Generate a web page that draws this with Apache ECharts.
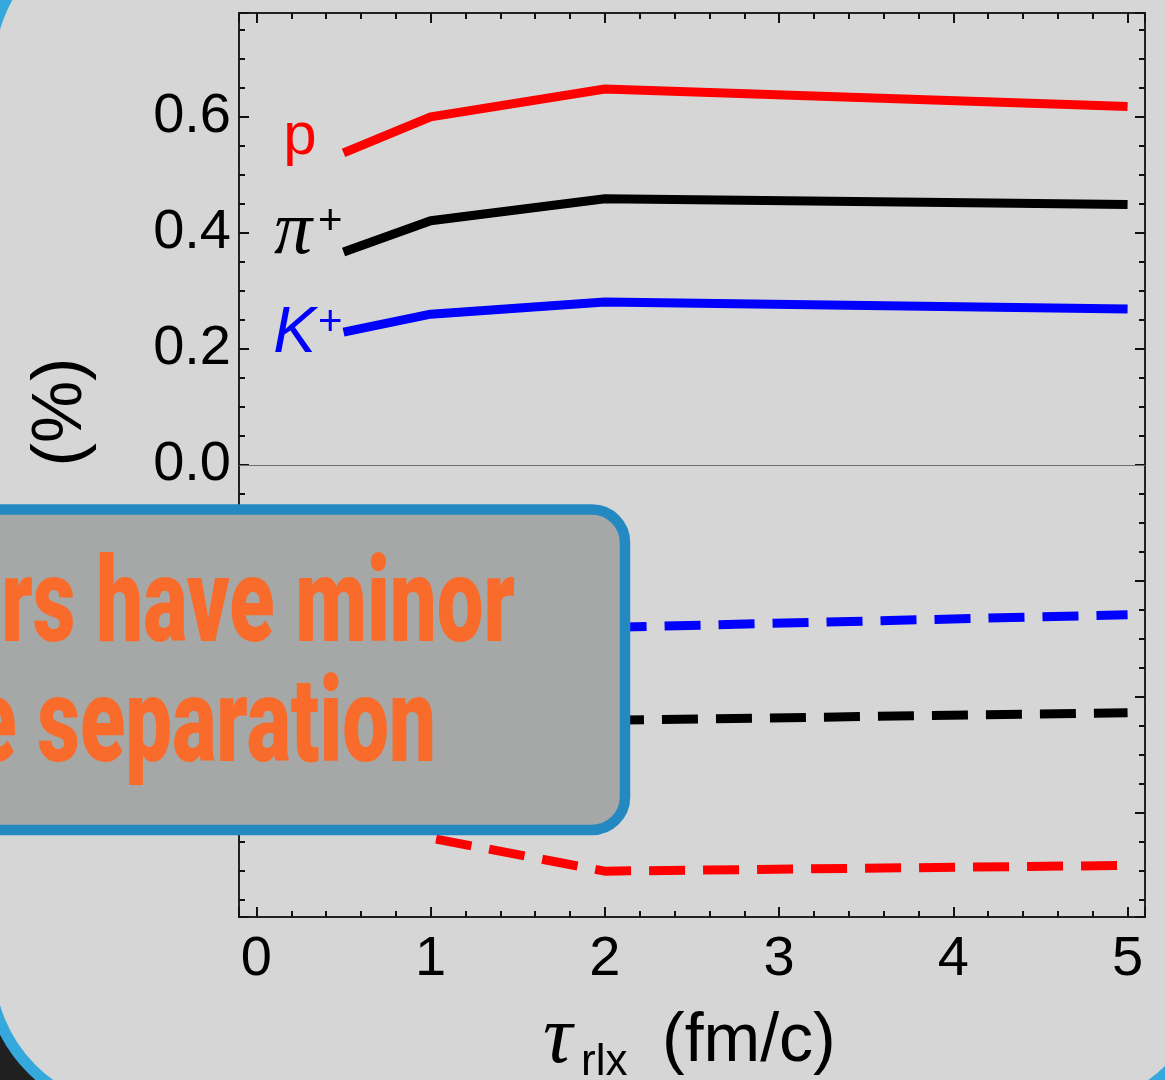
<!DOCTYPE html>
<html>
<head>
<meta charset="utf-8">
<script src="https://cdn.jsdelivr.net/npm/echarts@6/dist/echarts.min.js"></script>
<style>
  html, body { margin: 0; padding: 0; background: #202020; }
  #main { width: 1165px; height: 1080px; }
</style>
</head>
<body>
<div id="main"></div>
<script>
// tau_rlx values (fm/c)
const tau = [0.5, 1, 2, 5];
// solid curves (positive charges)
const pPlus = [0.538, 0.600, 0.648, 0.618];
const piPlus = [0.367, 0.421, 0.459, 0.449];
const kPlus = [0.229, 0.260, 0.281, 0.269];
// dashed curves (negative charges)
const pMinus = [-0.55, -0.643, -0.700, -0.690];
const piMinus = [-0.36, -0.41, -0.440, -0.427];
const kMinus = [-0.22, -0.255, -0.280, -0.258];

const xRange = [-0.1, 5.1];
const yRange = [-0.779, 0.779];

const chart = echarts.init(document.getElementById('main'));

function pts(ys, label) {
  return tau.map(function (t, i) {
    if (i === 0 && label) return { value: [t, ys[i]], label: label };
    return [t, ys[i]];
  });
}

function line(name, ys, color, dashed, label) {
  return {
    name: name,
    type: 'line',
    data: pts(ys, label),
    symbol: 'circle',
    symbolSize: 0,
    showSymbol: true,
    lineStyle: { color: color, width: 9, type: dashed ? [36, 18] : 'solid', cap: 'butt' },
    itemStyle: { color: color },
    label: { show: false },
    emphasis: { disabled: true },
    z: 3
  };
}

const tickStyle = { color: '#111', width: 2 };
function xAx(pos, labels) {
  return {
    type: 'value', position: pos, min: xRange[0], max: xRange[1],
    splitNumber: 5, minInterval: 1, maxInterval: 1,
    axisLine: { show: true, onZero: false, lineStyle: { color: '#222', width: 2 } },
    axisTick: { show: true, inside: true, length: 10, lineStyle: tickStyle },
    minorTick: { show: true, splitNumber: 5, length: 6, lineStyle: tickStyle },
    splitLine: { show: false },
    axisLabel: {
      show: labels, margin: 15, fontSize: 56, color: '#000', fontFamily: 'Liberation Sans',
      formatter: function (v) { return Math.abs(v - Math.round(v)) < 1e-6 ? String(Math.round(v)) : ''; }
    }
  };
}
function yAx(pos, labels) {
  return {
    type: 'value', position: pos, min: yRange[0], max: yRange[1],
    splitNumber: 8, minInterval: 0.2, maxInterval: 0.2,
    axisLine: { show: true, onZero: false, lineStyle: { color: '#222', width: 2 } },
    axisTick: { show: true, inside: true, length: 10, lineStyle: tickStyle },
    minorTick: { show: true, splitNumber: 4, length: 6, lineStyle: tickStyle },
    splitLine: { show: false },
    axisLabel: {
      show: labels, margin: 8, fontSize: 56, color: '#000', fontFamily: 'Liberation Sans',
      formatter: function (v) {
        const k = v / 0.2;
        return Math.abs(k - Math.round(k)) < 1e-6 ? (Math.round(k) * 0.2).toFixed(1) : '';
      }
    }
  };
}

const pLabel = {
  show: true, position: 'left', distance: 27, offset: [0, -15],
  formatter: 'p', color: '#ff0000', fontSize: 60, fontFamily: 'Liberation Sans'
};
const piLabel = {
  show: true, position: 'left', distance: 1, offset: [0, -16],
  formatter: '{a|π}{b|+}',
  rich: {
    a: { fontFamily: 'Liberation Serif', fontStyle: 'italic', fontSize: 76, color: '#000', lineHeight: 70, verticalAlign: 'bottom', padding: [0, 6, 0, 0] },
    b: { fontFamily: 'Liberation Sans', fontSize: 42, color: '#000', lineHeight: 36, verticalAlign: 'top' }
  }
};
const kLabel = {
  show: true, position: 'left', distance: 1, offset: [0, 2],
  formatter: '{a|K}{b|+}',
  rich: {
    a: { fontFamily: 'Liberation Sans', fontStyle: 'italic', fontSize: 64, color: '#0000ff', lineHeight: 64, verticalAlign: 'bottom', padding: [0, 2, 0, 0] },
    b: { fontFamily: 'Liberation Sans', fontSize: 42, color: '#0000ff', lineHeight: 36, verticalAlign: 'top' }
  }
};

const option = {
  animation: false,
  backgroundColor: '#202020',
  grid: { left: 239, top: 13, width: 906, height: 904 },
  xAxis: [xAx('bottom', true), xAx('top', false)],
  yAxis: [yAx('left', true), yAx('right', false)],
  series: [
    Object.assign(line('p', pPlus, '#ff0000', false, pLabel), {
      markLine: {
        silent: true, symbol: 'none', label: { show: false },
        lineStyle: { color: '#6e6e6e', width: 1, type: 'solid' },
        data: [{ yAxis: 0 }]
      }
    }),
    line('pi+', piPlus, '#000000', false, piLabel),
    line('K+', kPlus, '#0000ff', false, kLabel),
    line('pbar', pMinus, '#ff0000', true),
    line('pi-', piMinus, '#000000', true),
    line('K-', kMinus, '#0000ff', true)
  ],
  graphic: [
    {
      type: 'rect', z: -100, silent: true,
      shape: { x: -11, y: -77, width: 1223.5, height: 1188.5, r: 145.5 },
      style: { fill: '#d6d6d6', stroke: '#35a8dc', lineWidth: 11 }
    },
    {
      type: 'text', z: 50, silent: true, x: 62, y: 412, rotation: Math.PI / 2,
      style: { text: '(%)', font: '70px "Liberation Sans"', fill: '#000', align: 'center', verticalAlign: 'middle' }
    },
    {
      type: 'text', z: 50, silent: true, x: 543, y: 1040,
      style: { text: 'τ', font: 'italic 82px "Liberation Serif"', fill: '#000', align: 'left', verticalAlign: 'middle' }
    },
    {
      type: 'text', z: 50, silent: true, x: 581, y: 1063,
      style: { text: 'rlx', font: '44px "Liberation Sans"', fill: '#000', align: 'left', verticalAlign: 'middle' }
    },
    {
      type: 'text', z: 50, silent: true, x: 662, y: 1042,
      style: { text: '(fm/c)', font: '68px "Liberation Sans"', fill: '#000', align: 'left', verticalAlign: 'middle' }
    },
    {
      type: 'rect', z: 100, silent: true,
      shape: { x: -60, y: 509.5, width: 685, height: 320.5, r: 33 },
      style: { fill: '#a5a8a7', stroke: '#2389c0', lineWidth: 10.5 }
    },
    {
      type: 'text', z: 101, silent: true, x: 515, y: 611, scaleX: 0.705,
      style: { text: 'Other parameters have minor', font: '900 118px Roboto', fill: '#f96b2b', align: 'right', verticalAlign: 'middle' }
    },
    {
      type: 'text', z: 101, silent: true, x: 436, y: 731, scaleX: 0.705,
      style: { text: 'effect on the charge separation', font: '900 118px Roboto', fill: '#f96b2b', align: 'right', verticalAlign: 'middle' }
    }
  ]
};

chart.setOption(option);
</script>
</body>
</html>
